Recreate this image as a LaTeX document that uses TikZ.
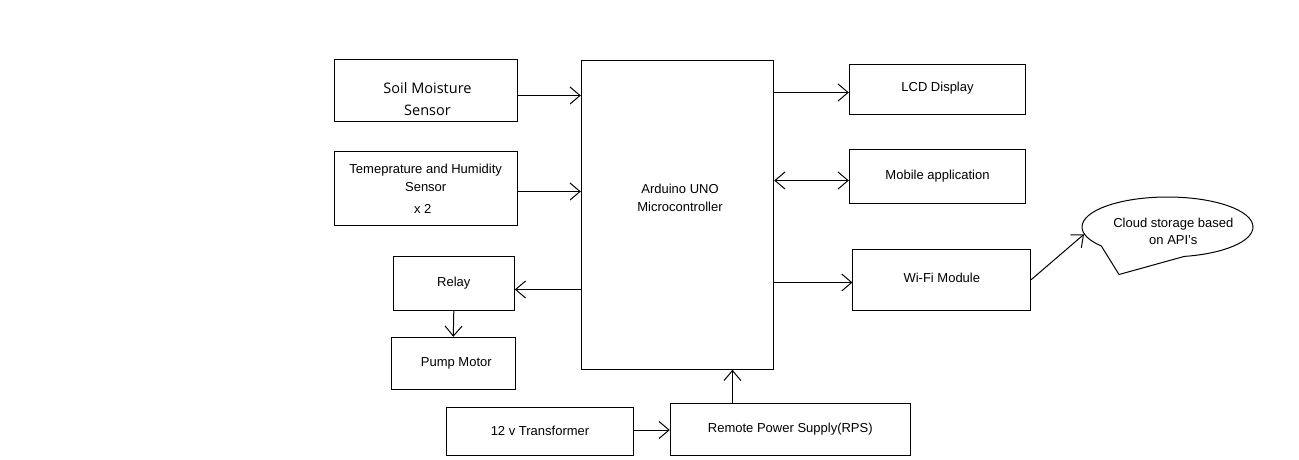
\documentclass[tikz,border=0pt]{standalone}
\usepackage{fontspec}
\setmainfont{Liberation Sans}
\newfontfamily\segoe{Open Sans}
\usetikzlibrary{arrows.meta,shapes.callouts,calc}
\begin{document}
\begin{tikzpicture}[x=1pt,y=-1pt,
  >={Straight Barb[length=10pt,width=17pt]},
  box/.style={draw, line width=1pt, rectangle, inner sep=0pt, align=center,
    font=\fontsize{13}{18}\selectfont},
  txt/.style={inner sep=0pt, align=center, font=\fontsize{13}{18}\selectfont},
  conn/.style={line width=1pt, ->},
  biconn/.style={line width=1pt, <->}
]
\fill[white] (0,0) rectangle (1299,460);
\useasboundingbox (0,0) rectangle (1299,460);

% boxes
\node[box, minimum width=183pt, minimum height=61pt] (soil) at (425.5,90.5) {};
\node[txt, font=\segoe\fontsize{14.5}{22}\selectfont] (soilT) at (427.5,99) {Soil Moisture\\Sensor};
\node[box, minimum width=183pt, minimum height=74pt] (temp) at (425.7,188.3)
  {Temeprature and Humidity\\Sensor\\[4pt]\hspace*{-6pt}x 2};
\node[box, minimum width=121pt, minimum height=54pt] (relay) at (453.8,283.3) {Relay};
\node[box, minimum width=124pt, minimum height=52pt] (pump) at (453.3,363.3) {\hspace*{6pt}Pump Motor};
\node[box, minimum width=192.4pt, minimum height=309pt] (ard) at (677.5,214.8) {};
\node[txt] (ardT) at (680,198.3) {Arduino UNO\\Microcontroller};
\node[box, minimum width=176.4pt, minimum height=49.7pt] (lcd) at (937.5,89.2) {\raisebox{4pt}{LCD Display}};
\node[box, minimum width=176.4pt, minimum height=54pt] (mob) at (937.5,176.3) {\raisebox{3pt}{Mobile application}};
\node[box, minimum width=177.7pt, minimum height=60.7pt] (wifi) at (941.8,279.7) {\raisebox{4pt}{Wi-Fi Module}};
\node[box, minimum width=186.6pt, minimum height=48pt] (trans) at (540,431.3) {12 v Transformer};
\node[box, minimum width=240pt, minimum height=52pt] (rps) at (790.3,429.3) {Remote Power Supply(RPS)};
\node[draw, line width=1pt, ellipse callout, inner sep=0pt,
  minimum width=171pt, minimum height=60pt,
  callout absolute pointer={(1119,274.5)}, callout pointer arc=62,
  align=center, font=\fontsize{13}{17}\selectfont] (cloud) at (1167.5,227) {};
\node[txt, font=\fontsize{13}{17}\selectfont] (cloudT) at (1173.3,231.6) {Cloud storage based\\on API's};

% connectors
\draw[conn] ($(soil.east)+(0,5)$) -- ($(soil.east -| ard.west)+(0,5)$);
\draw[conn] ($(temp.east)+(0,3.2)$) -- ($(temp.east -| ard.west)+(0,3.2)$);
\draw[conn] ($(relay.east -| ard.west)+(0,6.2)$) -- ($(relay.east)+(0,6.2)$);
\draw[conn] (relay.south) -- (pump.north);
\draw[conn] ($(lcd.west -| ard.east)+(0,3.3)$) -- ($(lcd.west)+(0,3.3)$);
\draw[biconn] ($(mob.west -| ard.east)+(0,4.2)$) -- ($(mob.west)+(0,4.2)$);
\draw[conn] ($(wifi.west -| ard.east)+(0,2.8)$) -- ($(wifi.west)+(0,2.8)$);
\draw[conn] (wifi.east) -- (cloud.185);
\draw[conn] ($(trans.east)+(0,-1.3)$) -- ($(rps.west)+(0,0.7)$);
\coordinate (rpsIn) at ($(rps.north west)!0.26!(rps.north east)$);
\draw[conn] (rpsIn) -- (rpsIn |- ard.south);
\end{tikzpicture}
\end{document}
